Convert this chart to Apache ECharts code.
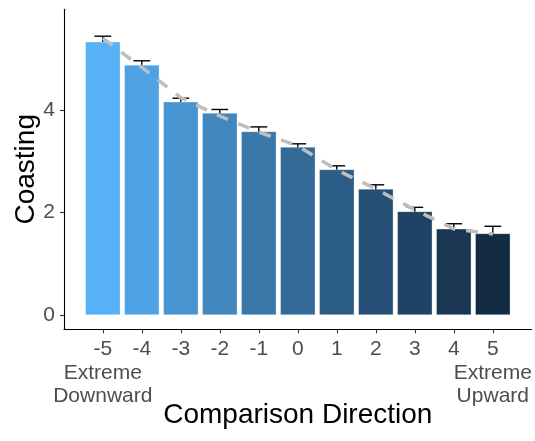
<!DOCTYPE html>
<html>
<head>
<meta charset="utf-8">
<script src="https://cdn.jsdelivr.net/npm/echarts@6/dist/echarts.min.js"></script>
<style>
html,body{margin:0;padding:0;background:#fff;}
#chart{width:535px;height:441px;}
</style>
</head>
<body>
<div id="chart"></div>
<script>
// ---- data ----
const categories = [-5, -4, -3, -2, -1, 0, 1, 2, 3, 4, 5];
const means = [5.33, 4.88, 4.16, 3.94, 3.58, 3.28, 2.84, 2.46, 2.02, 1.68, 1.59];
const errors = [0.11, 0.08, 0.07, 0.07, 0.09, 0.06, 0.07, 0.08, 0.08, 0.10, 0.14];
const trend = [5.40, 4.83, 4.24, 3.88, 3.57, 3.30, 2.83, 2.46, 2.05, 1.68, 1.58];
const yTicks = [0, 2, 4];
const tickLabels = ['-5', '-4', '-3', '-2', '-1', '0', '1', '2', '3', '4', '5'];
const extremeValues = [-5, 5];
const extremeLabels = ['Extreme\nDownward', 'Extreme\nUpward'];
const xTitle = 'Comparison Direction';
const yTitle = 'Coasting';

// ---- colour gradient (Lab interpolation, like ggplot) ----
function hexToRgb(h){return [1,3,5].map(i=>parseInt(h.substr(i,2),16));}
function lin(c){c/=255;return c<=0.04045?c/12.92:Math.pow((c+0.055)/1.055,2.4);}
function unlin(c){c=c<=0.0031308?12.92*c:1.055*Math.pow(c,1/2.4)-0.055;return Math.max(0,Math.min(255,Math.round(c*255)));}
function rgbToLab(rgb){
  const [r,g,b]=rgb.map(lin);
  let x=(r*0.4124+g*0.3576+b*0.1805)/0.95047, y=(r*0.2126+g*0.7152+b*0.0722), z=(r*0.0193+g*0.1192+b*0.9505)/1.08883;
  const f=t=>t>0.008856?Math.cbrt(t):(7.787*t+16/116);
  const fx=f(x),fy=f(y),fz=f(z);
  return [116*fy-16,500*(fx-fy),200*(fy-fz)];
}
function labToHex(lab){
  const fy=(lab[0]+16)/116, fx=fy+lab[1]/500, fz=fy-lab[2]/200;
  const fi=t=>t*t*t>0.008856?t*t*t:(t-16/116)/7.787;
  const x=fi(fx)*0.95047,y=fi(fy),z=fi(fz)*1.08883;
  const r=x*3.2406+y*-1.5372+z*-0.4986, g=x*-0.9689+y*1.8758+z*0.0415, b=x*0.0557+y*-0.2040+z*1.0570;
  return '#'+[r,g,b].map(unlin).map(v=>v.toString(16).padStart(2,'0')).join('');
}
const lowLab = rgbToLab(hexToRgb('#56B1F7'));
const highLab = rgbToLab(hexToRgb('#132B43'));
function colorFor(i){
  const t = i/(categories.length-1);
  return labToHex(lowLab.map((v,k)=>v+(highLab[k]-v)*t));
}

const FONT = '"Liberation Sans", Arial, sans-serif';
const X_MIN = -5.995, X_MAX = 5.995;

const chart = echarts.init(document.getElementById('chart'));
chart.setOption({
  animation: false,
  grid: {left: 64, right: 3.4, top: 9.3, bottom: 111.7, containLabel: false, outerBoundsMode: 'none'},
  xAxis: [{
    type: 'value', min: X_MIN, max: X_MAX,
    splitLine: {show: false},
    axisLine: {show: true, onZero: false, lineStyle: {color: '#000', width: 1.1}},
    axisTick: {show: true, length: 4, customValues: categories, lineStyle: {color: '#333', width: 1.1}},
    axisLabel: {
      customValues: categories, margin: 8, hideOverlap: false,
      color: '#4D4D4D', fontFamily: FONT, fontSize: 21, lineHeight: 23.5,
      formatter: v => tickLabels[categories.indexOf(v)]
    },
    name: xTitle, nameLocation: 'middle', nameGap: 72,
    nameTextStyle: {color: '#000', fontFamily: FONT, fontSize: 28}
  }, {
    type: 'value', min: X_MIN, max: X_MAX, position: 'bottom', gridIndex: 0,
    splitLine: {show: false},
    axisLine: {show: false, onZero: false},
    axisTick: {show: false},
    axisLabel: {
      customValues: extremeValues, margin: 32, hideOverlap: false,
      color: '#4D4D4D', fontFamily: FONT, fontSize: 21, lineHeight: 23.5,
      formatter: v => extremeLabels[extremeValues.indexOf(v)]
    }
  }],
  yAxis: {
    type: 'value', min: -0.28, max: 5.965,
    splitLine: {show: false},
    axisLine: {show: true, onZero: false, lineStyle: {color: '#000', width: 1.1}},
    axisTick: {show: true, length: 4, customValues: yTicks, lineStyle: {color: '#333', width: 1.1}},
    axisLabel: {customValues: yTicks, margin: 9, color: '#4D4D4D', fontFamily: FONT, fontSize: 21, hideOverlap: false},
    name: yTitle, nameLocation: 'middle', nameGap: 24, nameRotate: 90, nameMoveOverlap: false,
    nameTextStyle: {color: '#000', fontFamily: FONT, fontSize: 28}
  },
  series: [
    {
      type: 'custom', z: 1,
      data: categories.map((c, i) => [c, means[i], errors[i]]),
      renderItem: function (params, api) {
        const x = api.value(0), m = api.value(1), e = api.value(2);
        const top = api.coord([x, m + e]);
        const bot = api.coord([x, m - e]);
        const half = 8.4;
        const st = {stroke: '#000', lineWidth: 1.4};
        return {
          type: 'group',
          children: [
            {type: 'line', shape: {x1: top[0], y1: top[1], x2: bot[0], y2: bot[1]}, style: st},
            {type: 'line', shape: {x1: top[0]-half, y1: top[1], x2: top[0]+half, y2: top[1]}, style: st},
            {type: 'line', shape: {x1: bot[0]-half, y1: bot[1], x2: bot[0]+half, y2: bot[1]}, style: st}
          ]
        };
      }
    },
    {
      type: 'bar', z: 2, barWidth: 35,
      data: categories.map((c, i) => ({value: [c, means[i]], itemStyle: {color: colorFor(i)}})),
      itemStyle: {borderColor: 'rgba(255,255,255,0.6)', borderWidth: 0.5}
    },
    {
      type: 'line', z: 3, symbol: 'none',
      data: categories.map((c, i) => [c, trend[i]]),
      lineStyle: {color: '#BEBEBE', width: 3.5, type: [12, 11], cap: 'butt'}
    }
  ]
});
</script>
</body>
</html>
